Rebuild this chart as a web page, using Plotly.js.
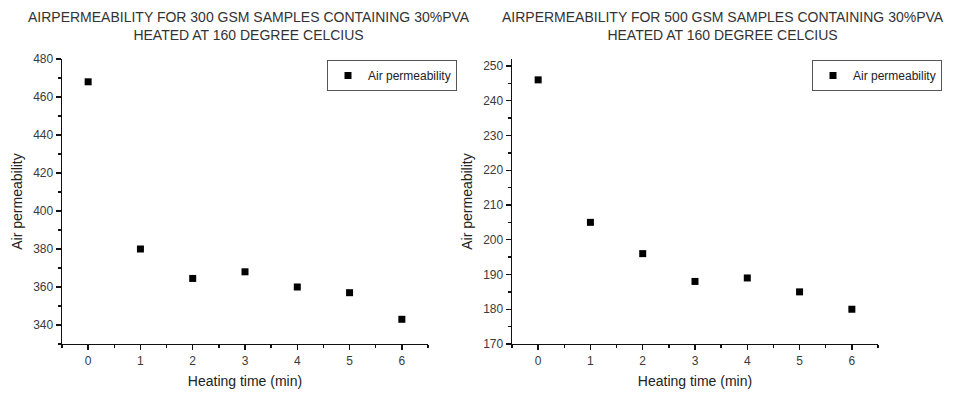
<!DOCTYPE html>
<html>
<head>
<meta charset="utf-8">
<script src="https://cdn.plot.ly/plotly-3.0.1.min.js"></script>
<style>html,body{margin:0;padding:0;background:#fff;}#chart{width:953px;height:394px;}</style>
</head>
<body>
<div id="chart"></div>
<script>
var heatingTime = [0, 1, 2, 3, 4, 5, 6];
var air300 = [468, 380, 364.5, 368, 360, 357, 343];
var air500 = [246, 205, 196, 188, 189, 185, 180];
var title300 = "AIRPERMEABILITY FOR 300 GSM SAMPLES CONTAINING 30%PVA<br>HEATED AT 160 DEGREE CELCIUS";
var title500 = "AIRPERMEABILITY FOR 500 GSM SAMPLES CONTAINING 30%PVA<br>HEATED AT 160 DEGREE CELCIUS";
var xLabel = "Heating time (min)";
var yLabel = "Air permeability";
var seriesName = "Air permeability";

var W = 953, H = 394;
var FONT = "Liberation Sans, Arial, sans-serif";
var marker = {symbol: "square", size: 7, color: "#000"};

var traces = [
  {x: heatingTime, y: air300, type: "scatter", mode: "markers", name: seriesName, marker: marker, xaxis: "x", yaxis: "y", legend: "legend"},
  {x: heatingTime, y: air500, type: "scatter", mode: "markers", name: seriesName, marker: marker, xaxis: "x2", yaxis: "y2", legend: "legend2"}
];

function xax(dom, anchor) {
  return {
    domain: dom, anchor: anchor, range: [-0.5, 6.5], dtick: 1, tick0: 0,
    showgrid: false, zeroline: false, showline: true, linecolor: "#111", linewidth: 1.4,
    ticks: "outside", ticklen: 5, tickcolor: "#111", tickwidth: 1.4,
    minor: {ticks: "outside", ticklen: 3, dtick: 0.5, tick0: 0, tickcolor: "#111", tickwidth: 1.4, showgrid: false},
    tickfont: {family: FONT, size: 12, color: "#3a3a3a"},
    title: {text: xLabel, font: {family: FONT, size: 14, color: "#222"}, standoff: 9}
  };
}
function yax(dom, anchor, range, dt) {
  return {
    domain: dom, anchor: anchor, range: range, dtick: dt, tick0: 0,
    showgrid: false, zeroline: false, showline: true, linecolor: "#111", linewidth: 1.4,
    ticks: "outside", ticklen: 5, tickcolor: "#111", tickwidth: 1.4,
    minor: {ticks: "outside", ticklen: 3, dtick: dt / 2, tick0: 0, tickcolor: "#111", tickwidth: 1.4, showgrid: false},
    tickfont: {family: FONT, size: 12, color: "#3a3a3a"},
    title: {text: yLabel, font: {family: FONT, size: 14, color: "#222"}, standoff: 7}
  };
}

var yDom = [1 - 344 / H, 1 - 59 / H];
var layout = {
  width: W, height: H,
  margin: {l: 0, r: 0, t: 0, b: 0},
  paper_bgcolor: "#fff", plot_bgcolor: "#fff",
  showlegend: true,
  xaxis: xax([62 / W, 428 / W], "y"),
  yaxis: yax(yDom, "x", [330, 480], 20),
  xaxis2: xax([512 / W, 878 / W], "y2"),
  yaxis2: yax(yDom, "x2", [170, 252], 10),
  legend: {x: 327 / W, y: 1 - 60 / H, xanchor: "left", yanchor: "top", bordercolor: "#555", borderwidth: 1, bgcolor: "#fff",
           font: {family: FONT, size: 12, color: "#222"}, itemwidth: 30, tracegroupgap: 0},
  legend2: {x: 812 / W, y: 1 - 60 / H, xanchor: "left", yanchor: "top", bordercolor: "#555", borderwidth: 1, bgcolor: "#fff",
           font: {family: FONT, size: 12, color: "#222"}, itemwidth: 30, tracegroupgap: 0},
  annotations: [
    {text: title300, x: 249 / W, y: 1 - 7 / H, xref: "paper", yref: "paper", xanchor: "center", yanchor: "top", showarrow: false,
     font: {family: FONT, size: 14, color: "#333"}},
    {text: title500, x: 723 / W, y: 1 - 7 / H, xref: "paper", yref: "paper", xanchor: "center", yanchor: "top", showarrow: false,
     font: {family: FONT, size: 14, color: "#333"}}
  ]
};

Plotly.newPlot("chart", traces, layout, {displayModeBar: false, staticPlot: true});
</script>
</body>
</html>
